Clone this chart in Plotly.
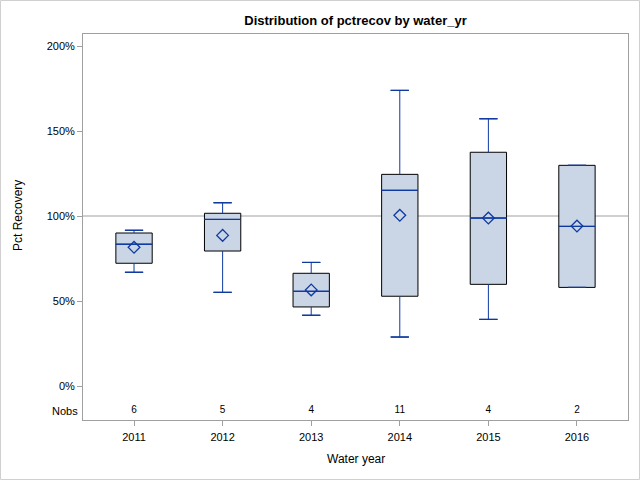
import plotly.graph_objects as go

# ---- data ----
years = ["2011", "2012", "2013", "2014", "2015", "2016"]
q1 = [72.2, 79.4, 46.5, 52.8, 59.8, 58.0]
median = [83.4, 98.0, 55.7, 115.1, 98.8, 93.9]
q3 = [90.0, 101.6, 66.3, 124.5, 137.5, 129.8]
lower = [66.9, 55.1, 41.6, 28.8, 39.2, 58.0]
upper = [91.6, 107.8, 72.7, 173.9, 157.2, 129.8]
means = [81.6, 88.6, 56.5, 100.4, 98.8, 94.1]
nobs = [6, 5, 4, 11, 4, 2]
ytick_vals = [0, 50, 100, 150, 200]
ytick_text = ["0%", "50%", "100%", "150%", "200%"]
ref_value = 100
nobs_y = -14.5

BLUE = "#0F3A9F"
FILL = "#CAD5E5"
FRAME = "#A0A0A0"
FONT = "Liberation Sans, Arial, sans-serif"
BOXW = 0.41

iqr = [b - a for a, b in zip(q1, q3)]
up_len = [u - b for b, u in zip(q3, upper)]
lo_len = [a - l for a, l in zip(q1, lower)]

fig = go.Figure()

# interquartile box: fill + black outline
fig.add_trace(go.Bar(
    x=years, y=iqr, base=q1, width=BOXW,
    marker=dict(color=FILL, line=dict(color="black", width=1)),
    hoverinfo="skip", showlegend=False,
))


def hline_box(vals, w):
    """zero-height box -> horizontal blue segment at the given values"""
    return go.Box(
        x=years, q1=vals, median=vals, q3=vals, lowerfence=vals, upperfence=vals,
        fillcolor="rgba(0,0,0,0)", line=dict(color=BLUE, width=1),
        width=w, whiskerwidth=0, boxpoints=False,
        hoverinfo="skip", showlegend=False,
    )


fig.add_trace(hline_box(median, BOXW))        # median
fig.add_trace(hline_box(upper, BOXW * 0.5))   # upper whisker cap
fig.add_trace(hline_box(lower, BOXW * 0.5))   # lower whisker cap

# whisker stems
fig.add_trace(go.Scatter(
    x=years, y=q3, mode="markers", marker=dict(size=1, color="rgba(0,0,0,0)"),
    error_y=dict(type="data", symmetric=False, array=up_len, arrayminus=[0] * len(years),
                 color=BLUE, thickness=1, width=0),
    hoverinfo="skip", showlegend=False,
))
fig.add_trace(go.Scatter(
    x=years, y=q1, mode="markers", marker=dict(size=1, color="rgba(0,0,0,0)"),
    error_y=dict(type="data", symmetric=False, array=[0] * len(years), arrayminus=lo_len,
                 color=BLUE, thickness=1, width=0),
    hoverinfo="skip", showlegend=False,
))
# means
fig.add_trace(go.Scatter(
    x=years, y=means, mode="markers",
    marker=dict(symbol="diamond-open", size=9, color=BLUE, line=dict(width=1.3, color=BLUE)),
    hoverinfo="skip", showlegend=False,
))
# Nobs row
fig.add_trace(go.Scatter(
    x=years, y=[nobs_y] * len(years), mode="text",
    text=[str(n) for n in nobs],
    textfont=dict(family=FONT, size=10, color="black"),
    hoverinfo="skip", showlegend=False,
))

fig.add_hline(y=ref_value, line=dict(color=FRAME, width=1), layer="below")

L, R, T, B = 83, 12, 34, 60
W, H = 640, 480
pw, ph = W - L - R, H - T - B

fig.add_shape(type="rect", xref="paper", yref="paper",
              x0=(0.5 - L) / pw, x1=(W - 0.5 - L) / pw,
              y0=-(B - 0.5) / ph, y1=(H - B - 0.5) / ph,
              line=dict(color="#D0D0D0", width=1), fillcolor="rgba(0,0,0,0)", layer="below")

fig.add_annotation(text="Nobs", xref="paper", yref="y", x=0, y=nobs_y,
                   xanchor="right", yanchor="middle", xshift=-3, showarrow=False,
                   font=dict(family=FONT, size=11, color="black"))
fig.add_annotation(text="Water year", xref="paper", yref="paper", x=0.5,
                   y=-(459 - (H - B)) / ph, xanchor="center", yanchor="middle",
                   showarrow=False, font=dict(family=FONT, size=12, color="black"))
fig.add_annotation(text="Pct Recovery", xref="paper", yref="paper",
                   x=(18 - L) / pw, y=((H - B) - 216) / ph, textangle=-90,
                   xanchor="center", yanchor="middle",
                   showarrow=False, font=dict(family=FONT, size=12, color="black"))

fig.update_layout(
    width=W, height=H,
    margin=dict(l=L, r=R, t=T, b=B),
    paper_bgcolor="white", plot_bgcolor="white",
    boxmode="overlay", barmode="overlay",
    title=dict(text="<b>Distribution of pctrecov by water_yr</b>",
               x=L / W + pw / W / 2, xanchor="center", y=1 - 20 / H, yanchor="middle",
               font=dict(family=FONT, size=13, color="black")),
    font=dict(family=FONT, size=11, color="black"),
)
fig.update_xaxes(
    type="category", range=[-0.576, 5.576],
    showline=True, mirror=True, linecolor=FRAME, linewidth=1,
    ticks="outside", ticklen=5, tickcolor=FRAME, showgrid=False, zeroline=False,
    tickfont=dict(family=FONT, size=11, color="black"), ticklabelstandoff=2,
)
fig.update_yaxes(
    range=[-20.0, 207.06], tickvals=ytick_vals, ticktext=ytick_text,
    showline=True, mirror=True, linecolor=FRAME, linewidth=1,
    ticks="outside", ticklen=5, tickcolor=FRAME, showgrid=False, zeroline=False,
    tickfont=dict(family=FONT, size=11, color="black"),
)

fig.write_html("out.html", config={"displayModeBar": False},
               post_script="document.body.style.margin='0';")
